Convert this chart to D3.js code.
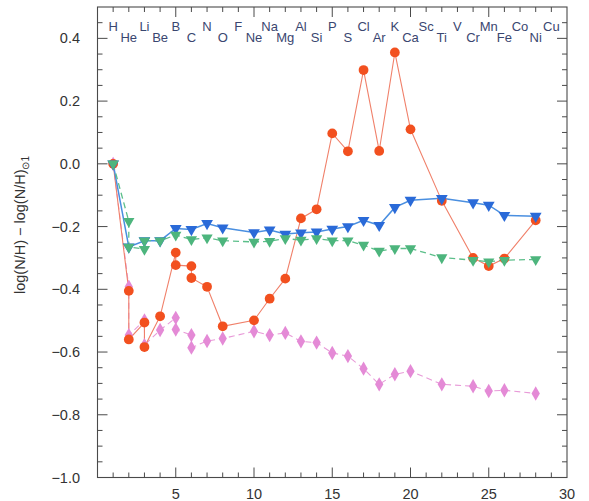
<!DOCTYPE html>
<html><head><meta charset="utf-8">
<script src="https://cdn.jsdelivr.net/npm/d3@7"></script>
<style>
html,body{margin:0;padding:0;background:#fff;}
text{font-family:"Liberation Sans",Arial,sans-serif;}
</style></head>
<body><svg id="c" width="589" height="501"></svg>
<script>
// ---- data ----
const elementNames = ["H","He","Li","Be","B","C","N","O","F","Ne","Na","Mg","Al","Si","P","S","Cl","Ar","K","Ca","Sc","Ti","V","Cr","Mn","Fe","Co","Ni","Cu"];
const elementZ = [1,2,3,4,5,6,7,8,9,10,11,12,13,14,15,16,17,18,19,20,21,22,23,24,25,26,27,28,29];

const redX  = [1,2,2,3,3,4,5,5,6,6,7,8,10,11,12,13,14,15,16,17,18,19,20,22,24,25,26,28];
const redY  = [0,-0.405,-0.56,-0.506,-0.584,-0.486,-0.283,-0.323,-0.326,-0.364,-0.392,-0.518,-0.499,-0.43,-0.366,-0.174,-0.145,0.097,0.04,0.299,0.041,0.355,0.11,-0.118,-0.3,-0.326,-0.302,-0.18];

const pinkX = [1,2,2,3,3,4,5,5,6,6,7,8,10,11,12,13,14,15,16,17,18,19,20,22,24,25,26,28];
const pinkY = [0,-0.392,-0.546,-0.499,-0.578,-0.53,-0.491,-0.528,-0.546,-0.586,-0.565,-0.557,-0.534,-0.546,-0.539,-0.566,-0.57,-0.603,-0.613,-0.653,-0.703,-0.671,-0.661,-0.703,-0.709,-0.724,-0.722,-0.732];

const blueX = [1,2,3,4,5,6,7,8,10,11,12,13,14,15,16,17,18,19,20,22,24,25,26,28];
const blueY = [0,-0.265,-0.245,-0.245,-0.206,-0.209,-0.19,-0.204,-0.219,-0.211,-0.224,-0.22,-0.217,-0.208,-0.2,-0.18,-0.196,-0.139,-0.116,-0.11,-0.124,-0.132,-0.164,-0.167];

const greenX = [1,2,2,3,3,4,5,6,7,8,10,11,12,13,14,15,16,17,18,19,20,22,24,25,26,28];
const greenY = [0,-0.183,-0.265,-0.272,-0.245,-0.245,-0.227,-0.241,-0.236,-0.245,-0.249,-0.247,-0.238,-0.243,-0.238,-0.245,-0.245,-0.259,-0.278,-0.27,-0.27,-0.299,-0.307,-0.312,-0.307,-0.305];

const xTickLabels = [5,10,15,20,25,30];
const yTickLabels = [0.4,0.2,0.0,-0.2,-0.4,-0.6,-0.8,-1.0];

// ---- layout ----
const svg = d3.select("#c");
const L = 97.5, R = 567, T = 7, B = 477.5;
const x = d3.scaleLinear().domain([0,30]).range([L,R]);
const y = d3.scaleLinear().domain([-1.0,0.5]).range([B,T]);
const axisColor = "#4a4a4a";

const zip = (xs, ys) => xs.map((v,i)=>[v, ys[i]]);
const line = d3.line().x(d=>x(d[0])).y(d=>y(d[1]));

// frame
svg.append("rect").attr("x",L).attr("y",T).attr("width",R-L).attr("height",B-T)
  .attr("fill","none").attr("stroke",axisColor).attr("stroke-width",1.1);

// ticks (inward)
const xMinor = d3.range(1,30);
const yMinor = d3.range(-1.0,0.5001,0.05).map(v=>+v.toFixed(2));
const g = svg.append("g").attr("stroke",axisColor).attr("stroke-width",1);
xMinor.forEach(v=>{
  const len = v%5===0 ? 10 : 5;
  g.append("line").attr("x1",x(v)).attr("x2",x(v)).attr("y1",B).attr("y2",B-len);
  g.append("line").attr("x1",x(v)).attr("x2",x(v)).attr("y1",T).attr("y2",T+len);
});
yMinor.forEach(v=>{
  if (v<=-1.0 || v>=0.5) return;
  const major = Math.abs(Math.round(v*10)/10 - v) < 1e-6 && Math.round(v*10)%2===0;
  const len = major ? 10 : 5;
  g.append("line").attr("y1",y(v)).attr("y2",y(v)).attr("x1",L).attr("x2",L+len);
  g.append("line").attr("y1",y(v)).attr("y2",y(v)).attr("x1",R).attr("x2",R-len);
});

// tick labels
svg.selectAll(".xl").data(xTickLabels).enter().append("text")
  .attr("x",d=>x(d)).attr("y",499).attr("text-anchor","middle")
  .attr("font-size",14.5).attr("fill","#333").text(d=>d);
svg.selectAll(".yl").data(yTickLabels).enter().append("text")
  .attr("x",80).attr("y",d=>y(d)+5).attr("text-anchor","end")
  .attr("font-size",14.5).attr("fill","#333").text(d=>d3.format(".1f")(d).replace("-","\u2212"));

// y axis title
const yt = svg.append("text").attr("transform","translate(25,225) rotate(-90)")
  .attr("text-anchor","middle").attr("font-size",14.5).attr("fill","#333");
yt.append("tspan").text("log(N/H) \u2212 log(N/H)");
yt.append("tspan").attr("font-size",10).attr("dy",4).text("\u22991");

// element labels
svg.selectAll(".el").data(elementNames).enter().append("text")
  .attr("x",(d,i)=>x(elementZ[i])).attr("y",(d,i)=> elementZ[i]%2===1 ? 31 : 42)
  .attr("text-anchor","middle").attr("font-size",13).attr("fill","#3a4670").text(d=>d);

// series lines
function drawLine(xs, ys, color, width, dash){
  svg.append("path").datum(zip(xs,ys)).attr("d",line).attr("fill","none")
    .attr("stroke",color).attr("stroke-width",width).attr("stroke-dasharray",dash||null);
}
drawLine(pinkX,pinkY,"#e89ad8",1.1,"6,4");
drawLine(redX,redY,"#f0806a",1.1);
drawLine(blueX,blueY,"#4a8fe0",1.5);
drawLine(greenX,greenY,"#5cbf8a",1.3,"6,4");

// markers
const sym = (type,size)=>d3.symbol().type(type).size(size)();
function drawMarks(xs, ys, path, color, rot){
  svg.append("g").selectAll("path").data(zip(xs,ys)).enter().append("path")
    .attr("d",path).attr("fill",color)
    .attr("transform",d=>`translate(${x(d[0])},${y(d[1])})${rot?` rotate(${rot})`:""}`);
}
drawMarks(pinkX,pinkY,sym(d3.symbolDiamond,60),"#e48ad6",0);
drawMarks(redX,redY,sym(d3.symbolCircle,75),"#f2501f",0);
drawMarks(blueX,blueY,sym(d3.symbolTriangle,60),"#2a6ad8",180);
drawMarks(greenX,greenY,sym(d3.symbolTriangle,55),"#4db57d",180);
</script></body></html>
